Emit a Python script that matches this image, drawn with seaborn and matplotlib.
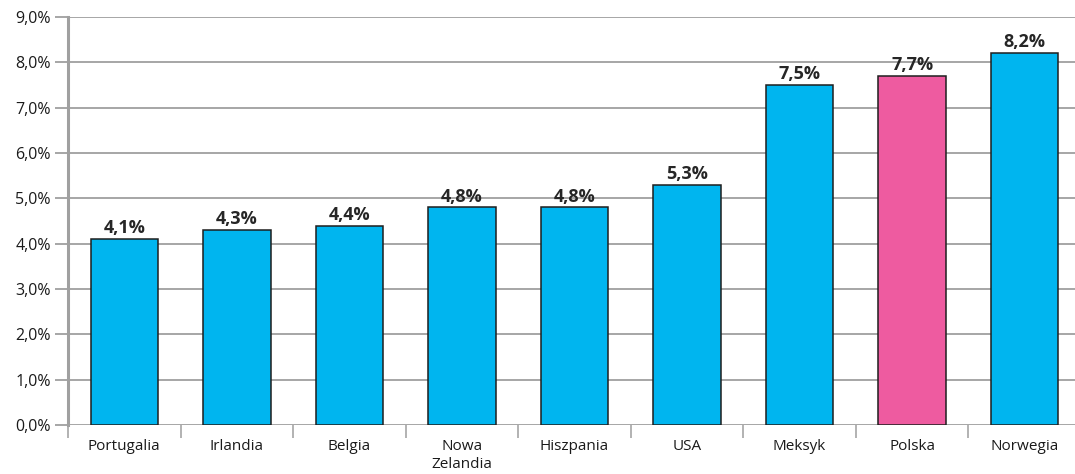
import matplotlib
matplotlib.use("Agg")
import matplotlib.pyplot as plt
import seaborn as sns
import pandas as pd
import numpy as np
from matplotlib.ticker import FixedLocator, FuncFormatter

countries = ["Portugalia", "Irlandia", "Belgia", "Nowa\nZelandia", "Hiszpania",
             "USA", "Meksyk", "Polska", "Norwegia"]
values = [4.1, 4.3, 4.4, 4.8, 4.8, 5.3, 7.5, 7.7, 8.2]
highlight = "Polska"

blue = "#00B5EF"
pink = "#EE5BA0"
grid_col = "#A6A6A6"

sns.set_theme(style="white")
plt.rcParams["font.family"] = ["Open Sans", "DejaVu Sans"]

df = pd.DataFrame({"kraj": countries, "wartosc": values})
palette = {k: (pink if k == highlight else blue) for k in countries}

fig = plt.figure(figsize=(10.75, 4.74), dpi=100)
ax = fig.add_axes([68 / 1075, 1 - 425 / 474, 1013 / 1075, (425 - 17) / 474])

sns.barplot(data=df, x="kraj", y="wartosc", hue="kraj", palette=palette,
            saturation=1, width=0.6, edgecolor="#1E1E1E", linewidth=1.1,
            legend=False, ax=ax, zorder=3)

ax.set_ylim(0, 9)
ax.set_xlim(-0.5, len(countries) - 0.5)
ax.set_yticks(np.arange(0, 9.01, 1))
ax.yaxis.set_major_formatter(FuncFormatter(lambda v, p: f"{v:.1f}%".replace(".", ",")))
ax.yaxis.grid(True, color=grid_col, linewidth=1.4, zorder=0)
ax.set_axisbelow(True)

for s in ["top", "right", "bottom"]:
    ax.spines[s].set_visible(False)
ax.spines["left"].set_color("#A0A0A0")
ax.spines["left"].set_linewidth(2.2)
ax.spines["left"].set_zorder(4)

ax.tick_params(axis="y", which="major", length=9.5, width=1.4, color=grid_col,
               labelsize=11.5, labelcolor="#1A1A1A", pad=3, left=True)
ax.tick_params(axis="x", which="major", length=0, labelsize=11,
               labelcolor="#1A1A1A", pad=10)
ax.xaxis.set_minor_locator(FixedLocator(np.arange(-0.5, len(countries), 1)))
ax.tick_params(axis="x", which="minor", length=9, width=1.2, color=grid_col,
               bottom=True)
ax.set_xlabel("")
ax.set_ylabel("")

for lbl in ax.get_xticklabels():
    lbl.set_linespacing(1.3)
    lbl.set_verticalalignment("top")

for i, v in enumerate(values):
    ax.text(i, v + 0.04, f"{v:.1f}%".replace(".", ","), ha="center", va="bottom",
            fontsize=13, fontweight="bold", color="#262626", zorder=5)

fig.savefig("out.png", dpi=100)
